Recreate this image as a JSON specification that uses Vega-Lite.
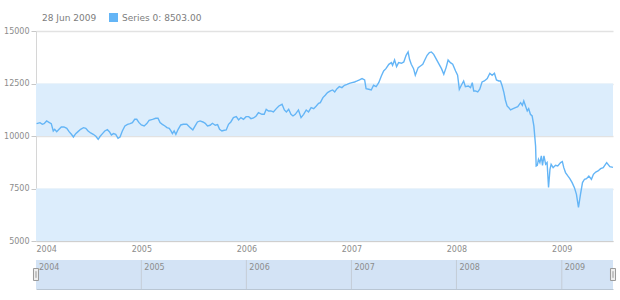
{
  "$schema": "https://vega.github.io/schema/vega-lite/v6.json",
  "padding": {"left": 3, "top": 13, "right": 7, "bottom": 0},
  "spacing": 6,
  "datasets": {
    "bands": [{"lo": 5000, "hi": 7500}, {"lo": 10000, "hi": 12500}],
    "years": [
      {"year": "2004", "start": "2004-01-01", "end": "2005-01-01"},
      {"year": "2005", "start": "2005-01-01", "end": "2006-01-01"},
      {"year": "2006", "start": "2006-01-01", "end": "2007-01-01"},
      {"year": "2007", "start": "2007-01-01", "end": "2008-01-01"},
      {"year": "2008", "start": "2008-01-01", "end": "2009-01-01"},
      {"year": "2009", "start": "2009-01-01", "end": "2009-06-28"}
    ],
    "handles": [{"date": "2004-01-01"}, {"date": "2009-06-28"}],
    "series": [
      {"date": "2004-01-03", "value": 10589}, {"date": "2004-01-15", "value": 10636}, {"date": "2004-01-23", "value": 10557}, {"date": "2004-01-29", "value": 10589},
      {"date": "2004-02-07", "value": 10716}, {"date": "2004-02-15", "value": 10652}, {"date": "2004-02-23", "value": 10589}, {"date": "2004-03-01", "value": 10240},
      {"date": "2004-03-06", "value": 10319}, {"date": "2004-03-13", "value": 10208}, {"date": "2004-03-21", "value": 10319}, {"date": "2004-03-29", "value": 10430},
      {"date": "2004-04-07", "value": 10430}, {"date": "2004-04-17", "value": 10367}, {"date": "2004-04-25", "value": 10208}, {"date": "2004-05-03", "value": 10081},
      {"date": "2004-05-10", "value": 9954}, {"date": "2004-05-18", "value": 10113}, {"date": "2004-05-26", "value": 10208}, {"date": "2004-06-04", "value": 10319},
      {"date": "2004-06-14", "value": 10398}, {"date": "2004-06-22", "value": 10367}, {"date": "2004-06-30", "value": 10240}, {"date": "2004-07-09", "value": 10144},
      {"date": "2004-07-18", "value": 10081}, {"date": "2004-07-27", "value": 9986}, {"date": "2004-08-04", "value": 9843}, {"date": "2004-08-11", "value": 9986},
      {"date": "2004-08-19", "value": 10113}, {"date": "2004-08-27", "value": 10240}, {"date": "2004-09-05", "value": 10303}, {"date": "2004-09-12", "value": 10208},
      {"date": "2004-09-19", "value": 10049}, {"date": "2004-09-26", "value": 10113}, {"date": "2004-10-04", "value": 10081}, {"date": "2004-10-12", "value": 9890},
      {"date": "2004-10-19", "value": 9954}, {"date": "2004-10-27", "value": 10240}, {"date": "2004-11-05", "value": 10478}, {"date": "2004-11-14", "value": 10557},
      {"date": "2004-11-23", "value": 10589}, {"date": "2004-12-01", "value": 10636}, {"date": "2004-12-09", "value": 10795}, {"date": "2004-12-16", "value": 10795},
      {"date": "2004-12-24", "value": 10636}, {"date": "2005-01-01", "value": 10525}, {"date": "2005-01-11", "value": 10478}, {"date": "2005-01-20", "value": 10589},
      {"date": "2005-01-28", "value": 10748}, {"date": "2005-02-09", "value": 10795}, {"date": "2005-02-20", "value": 10843}, {"date": "2005-02-28", "value": 10843},
      {"date": "2005-03-07", "value": 10636}, {"date": "2005-03-15", "value": 10557}, {"date": "2005-03-24", "value": 10478}, {"date": "2005-03-31", "value": 10398},
      {"date": "2005-04-08", "value": 10367}, {"date": "2005-04-14", "value": 10240}, {"date": "2005-04-19", "value": 10113}, {"date": "2005-04-25", "value": 10240},
      {"date": "2005-05-01", "value": 10081}, {"date": "2005-05-09", "value": 10319}, {"date": "2005-05-18", "value": 10525}, {"date": "2005-05-27", "value": 10557},
      {"date": "2005-06-08", "value": 10557}, {"date": "2005-06-20", "value": 10398}, {"date": "2005-06-29", "value": 10287}, {"date": "2005-07-07", "value": 10478},
      {"date": "2005-07-15", "value": 10668}, {"date": "2005-07-24", "value": 10716}, {"date": "2005-08-03", "value": 10668}, {"date": "2005-08-11", "value": 10605},
      {"date": "2005-08-19", "value": 10478}, {"date": "2005-08-28", "value": 10510}, {"date": "2005-09-05", "value": 10605}, {"date": "2005-09-15", "value": 10510},
      {"date": "2005-09-23", "value": 10541}, {"date": "2005-09-30", "value": 10319}, {"date": "2005-10-08", "value": 10240}, {"date": "2005-10-16", "value": 10271},
      {"date": "2005-10-23", "value": 10287}, {"date": "2005-10-31", "value": 10557}, {"date": "2005-11-08", "value": 10668}, {"date": "2005-11-17", "value": 10875},
      {"date": "2005-11-27", "value": 10922}, {"date": "2005-12-05", "value": 10764}, {"date": "2005-12-13", "value": 10875}, {"date": "2005-12-22", "value": 10795},
      {"date": "2005-12-31", "value": 10922}, {"date": "2006-01-09", "value": 10922}, {"date": "2006-01-17", "value": 10827}, {"date": "2006-01-26", "value": 10859},
      {"date": "2006-02-04", "value": 10954}, {"date": "2006-02-12", "value": 11113}, {"date": "2006-02-24", "value": 11033}, {"date": "2006-03-04", "value": 11033},
      {"date": "2006-03-11", "value": 11271}, {"date": "2006-03-19", "value": 11192}, {"date": "2006-03-27", "value": 11192}, {"date": "2006-04-05", "value": 11145},
      {"date": "2006-04-15", "value": 11303}, {"date": "2006-04-24", "value": 11430}, {"date": "2006-05-05", "value": 11510}, {"date": "2006-05-13", "value": 11240},
      {"date": "2006-05-20", "value": 11145}, {"date": "2006-05-28", "value": 11271}, {"date": "2006-06-05", "value": 11033}, {"date": "2006-06-12", "value": 10954},
      {"date": "2006-06-20", "value": 11033}, {"date": "2006-07-01", "value": 11240}, {"date": "2006-07-10", "value": 10875}, {"date": "2006-07-19", "value": 11033},
      {"date": "2006-07-28", "value": 11240}, {"date": "2006-08-05", "value": 11145}, {"date": "2006-08-14", "value": 11351}, {"date": "2006-08-23", "value": 11303},
      {"date": "2006-09-01", "value": 11430}, {"date": "2006-09-09", "value": 11557}, {"date": "2006-09-15", "value": 11589}, {"date": "2006-09-24", "value": 11827},
      {"date": "2006-10-02", "value": 11938}, {"date": "2006-10-10", "value": 12065}, {"date": "2006-10-20", "value": 12144}, {"date": "2006-10-28", "value": 12192},
      {"date": "2006-11-04", "value": 12097}, {"date": "2006-11-12", "value": 12256}, {"date": "2006-11-20", "value": 12351}, {"date": "2006-11-29", "value": 12303},
      {"date": "2006-12-08", "value": 12414}, {"date": "2006-12-17", "value": 12462}, {"date": "2006-12-25", "value": 12510}, {"date": "2007-01-03", "value": 12541},
      {"date": "2007-01-12", "value": 12573}, {"date": "2007-01-21", "value": 12621}, {"date": "2007-01-29", "value": 12668}, {"date": "2007-02-07", "value": 12732},
      {"date": "2007-02-16", "value": 12668}, {"date": "2007-02-21", "value": 12256}, {"date": "2007-03-02", "value": 12224}, {"date": "2007-03-11", "value": 12192},
      {"date": "2007-03-19", "value": 12414}, {"date": "2007-03-28", "value": 12351}, {"date": "2007-04-06", "value": 12541}, {"date": "2007-04-15", "value": 12859},
      {"date": "2007-04-23", "value": 13097}, {"date": "2007-05-01", "value": 13208}, {"date": "2007-05-11", "value": 13414}, {"date": "2007-05-20", "value": 13494},
      {"date": "2007-05-24", "value": 13367}, {"date": "2007-05-31", "value": 13621}, {"date": "2007-06-07", "value": 13303}, {"date": "2007-06-14", "value": 13494},
      {"date": "2007-06-24", "value": 13462}, {"date": "2007-07-02", "value": 13525}, {"date": "2007-07-10", "value": 13843}, {"date": "2007-07-17", "value": 14002},
      {"date": "2007-07-22", "value": 13652}, {"date": "2007-07-28", "value": 13414}, {"date": "2007-08-05", "value": 13208}, {"date": "2007-08-11", "value": 12891},
      {"date": "2007-08-21", "value": 13256}, {"date": "2007-08-29", "value": 13335}, {"date": "2007-09-06", "value": 13414}, {"date": "2007-09-13", "value": 13621},
      {"date": "2007-09-21", "value": 13843}, {"date": "2007-09-29", "value": 13970}, {"date": "2007-10-06", "value": 14002}, {"date": "2007-10-14", "value": 13890},
      {"date": "2007-10-22", "value": 13684}, {"date": "2007-10-31", "value": 13462}, {"date": "2007-11-10", "value": 13208}, {"date": "2007-11-18", "value": 12938},
      {"date": "2007-11-26", "value": 13256}, {"date": "2007-12-03", "value": 13621}, {"date": "2007-12-11", "value": 13494}, {"date": "2007-12-19", "value": 13414},
      {"date": "2007-12-29", "value": 13097}, {"date": "2008-01-05", "value": 12891}, {"date": "2008-01-11", "value": 12224}, {"date": "2008-01-18", "value": 12414},
      {"date": "2008-01-26", "value": 12621}, {"date": "2008-02-01", "value": 12351}, {"date": "2008-02-11", "value": 12383}, {"date": "2008-02-19", "value": 12303},
      {"date": "2008-02-25", "value": 12541}, {"date": "2008-03-01", "value": 12144}, {"date": "2008-03-07", "value": 12145}, {"date": "2008-03-15", "value": 12097},
      {"date": "2008-03-22", "value": 12224}, {"date": "2008-03-30", "value": 12573}, {"date": "2008-04-07", "value": 12621}, {"date": "2008-04-17", "value": 12732},
      {"date": "2008-04-26", "value": 12986}, {"date": "2008-05-04", "value": 12891}, {"date": "2008-05-12", "value": 12986}, {"date": "2008-05-19", "value": 12668},
      {"date": "2008-05-27", "value": 12621}, {"date": "2008-06-02", "value": 12621}, {"date": "2008-06-08", "value": 12383}, {"date": "2008-06-14", "value": 12065},
      {"date": "2008-06-19", "value": 11716}, {"date": "2008-06-25", "value": 11430}, {"date": "2008-07-01", "value": 11351}, {"date": "2008-07-07", "value": 11240},
      {"date": "2008-07-16", "value": 11303}, {"date": "2008-07-24", "value": 11351}, {"date": "2008-08-01", "value": 11398}, {"date": "2008-08-11", "value": 11589},
      {"date": "2008-08-17", "value": 11462}, {"date": "2008-08-22", "value": 11668}, {"date": "2008-08-28", "value": 11430}, {"date": "2008-09-03", "value": 11192},
      {"date": "2008-09-08", "value": 11303}, {"date": "2008-09-14", "value": 11033}, {"date": "2008-09-20", "value": 10954}, {"date": "2008-09-26", "value": 10478},
      {"date": "2008-10-02", "value": 9525}, {"date": "2008-10-04", "value": 8573}, {"date": "2008-10-08", "value": 8605}, {"date": "2008-10-12", "value": 8890},
      {"date": "2008-10-17", "value": 8732}, {"date": "2008-10-22", "value": 9050}, {"date": "2008-10-26", "value": 8605}, {"date": "2008-10-31", "value": 9049},
      {"date": "2008-11-06", "value": 8652}, {"date": "2008-11-11", "value": 8732}, {"date": "2008-11-16", "value": 7550}, {"date": "2008-11-21", "value": 8414},
      {"date": "2008-11-25", "value": 8652}, {"date": "2008-12-02", "value": 8494}, {"date": "2008-12-10", "value": 8605}, {"date": "2008-12-18", "value": 8573},
      {"date": "2008-12-28", "value": 8732}, {"date": "2009-01-03", "value": 8779}, {"date": "2009-01-08", "value": 8494}, {"date": "2009-01-14", "value": 8257},
      {"date": "2009-01-22", "value": 8097}, {"date": "2009-01-29", "value": 7971}, {"date": "2009-02-06", "value": 7781}, {"date": "2009-02-14", "value": 7541},
      {"date": "2009-02-21", "value": 7224}, {"date": "2009-02-28", "value": 6600}, {"date": "2009-03-07", "value": 7224}, {"date": "2009-03-14", "value": 7781},
      {"date": "2009-03-21", "value": 7940}, {"date": "2009-03-28", "value": 7970}, {"date": "2009-04-05", "value": 8095}, {"date": "2009-04-14", "value": 7938},
      {"date": "2009-04-21", "value": 8176}, {"date": "2009-04-29", "value": 8286}, {"date": "2009-05-07", "value": 8335}, {"date": "2009-05-16", "value": 8447},
      {"date": "2009-05-25", "value": 8494}, {"date": "2009-06-06", "value": 8733}, {"date": "2009-06-17", "value": 8541}, {"date": "2009-06-28", "value": 8503}
    ]
  },
  "vconcat": [
    {
      "width": 577,
      "height": 210,
      "layer": [
        {
          "data": {"name": "bands"},
          "mark": {"type": "rect", "fill": "#dcedfc"},
          "encoding": {
            "y": {
              "field": "lo", "type": "quantitative", "scale": {"domain": [5000, 15000]},
              "axis": {
                "title": null, "values": [5000, 7500, 10000, 12500, 15000], "format": "d",
                "grid": true, "gridColor": "#e2e2e2", "gridWidth": 1.5,
                "domainColor": "#d6d6d6", "tickColor": "#c8c8c8", "tickSize": 5,
                "labelFontSize": 8, "labelColor": "#8c8c8c", "labelPadding": 2
              }
            },
            "y2": {"field": "hi"}
          }
        },
        {
          "data": {"name": "series"},
          "mark": {"type": "line", "strokeWidth": 1.4, "color": "#64b5f6"},
          "encoding": {
            "x": {
              "field": "date", "type": "temporal",
              "scale": {"type": "utc", "domain": [{"year": 2004, "month": 1, "date": 1, "utc": true}, {"year": 2009, "month": 6, "date": 28, "utc": true}]},
              "axis": {
                "title": null, "format": "%Y", "labelFlush": true,
                "values": [
                  {"year": 2004, "month": 1, "date": 1, "utc": true}, {"year": 2005, "month": 1, "date": 1, "utc": true},
                  {"year": 2006, "month": 1, "date": 1, "utc": true}, {"year": 2007, "month": 1, "date": 1, "utc": true},
                  {"year": 2008, "month": 1, "date": 1, "utc": true}, {"year": 2009, "month": 1, "date": 1, "utc": true}
                ],
                "ticks": false, "grid": false, "domainColor": "#cfcfcf", "domainWidth": 1,
                "labelFontSize": 8, "labelColor": "#8c8c8c", "labelPadding": 4
              }
            },
            "y": {
              "field": "value", "type": "quantitative",
              "scale": {"domain": [5000, 15000]},
              "axis": {
                "title": null, "values": [5000, 7500, 10000, 12500, 15000], "format": "d",
                "grid": true, "gridColor": "#e2e2e2", "gridWidth": 1.5,
                "domainColor": "#d6d6d6", "tickColor": "#c8c8c8", "tickSize": 5,
                "labelFontSize": 8, "labelColor": "#8c8c8c", "labelPadding": 2
              }
            },
            "color": {
              "datum": "Series 0",
              "scale": {"range": ["#64b5f6"]},
              "legend": {
                "orient": "none", "legendX": 6, "legendY": -18, "direction": "horizontal",
                "title": "28 Jun 2009", "titleOrient": "left", "titleFontSize": 9, "titleFontWeight": "normal",
                "titleColor": "#7d7d7d", "titlePadding": 12, "titleBaseline": "middle",
                "symbolType": "square", "symbolSize": 81, "symbolStrokeWidth": 0,
                "labelFontSize": 9, "labelColor": "#7d7d7d", "labelOffset": 4,
                "labelExpr": "datum.label + ': 8503.00'",
                "encode": {"symbols": {"update": {"fill": {"value": "#64b5f6"}, "strokeWidth": {"value": 0}}}}
              }
            }
          }
        }
      ]
    },
    {
      "width": 577,
      "height": 29,
      "layer": [
        {
          "data": {"name": "years"},
          "mark": {"type": "rect", "fill": "#d3e3f5"},
          "encoding": {
            "x": {
              "field": "start", "type": "temporal",
              "scale": {"type": "utc", "domain": [{"year": 2004, "month": 1, "date": 1, "utc": true}, {"year": 2009, "month": 6, "date": 28, "utc": true}]},
              "axis": {"title": null, "labels": false, "ticks": false, "grid": false, "domainColor": "#b9c6d3"}
            },
            "x2": {"field": "end"}
          }
        },
        {
          "data": {"name": "years"},
          "transform": [{"filter": "datum.year != '2004'"}],
          "mark": {"type": "rule", "stroke": "#c3ccd6", "strokeWidth": 1},
          "encoding": {"x": {"field": "start", "type": "temporal"}}
        },
        {
          "data": {"name": "years"},
          "mark": {"type": "text", "align": "left", "baseline": "middle", "dx": 3, "dy": -7, "fontSize": 8, "fill": "#8c8c8c"},
          "encoding": {"x": {"field": "start", "type": "temporal"}, "text": {"field": "year"}}
        },
        {
          "data": {"name": "handles"},
          "mark": {"type": "point", "shape": "M-0.42,-1L0.42,-1L0.42,1L-0.42,1Z", "size": 144, "filled": true, "fill": "#eeeeee", "stroke": "#9a9a9a", "strokeWidth": 1, "opacity": 1},
          "encoding": {"x": {"field": "date", "type": "temporal"}}
        },
        {
          "data": {"name": "handles"},
          "mark": {"type": "point", "shape": "M0,-0.55L0,0.55", "size": 144, "filled": false, "stroke": "#9a9a9a", "strokeWidth": 1, "opacity": 1},
          "encoding": {"x": {"field": "date", "type": "temporal"}}
        }
      ]
    }
  ],
  "config": {
    "font": "DejaVu Sans",
    "view": {"stroke": null}
  }
}
